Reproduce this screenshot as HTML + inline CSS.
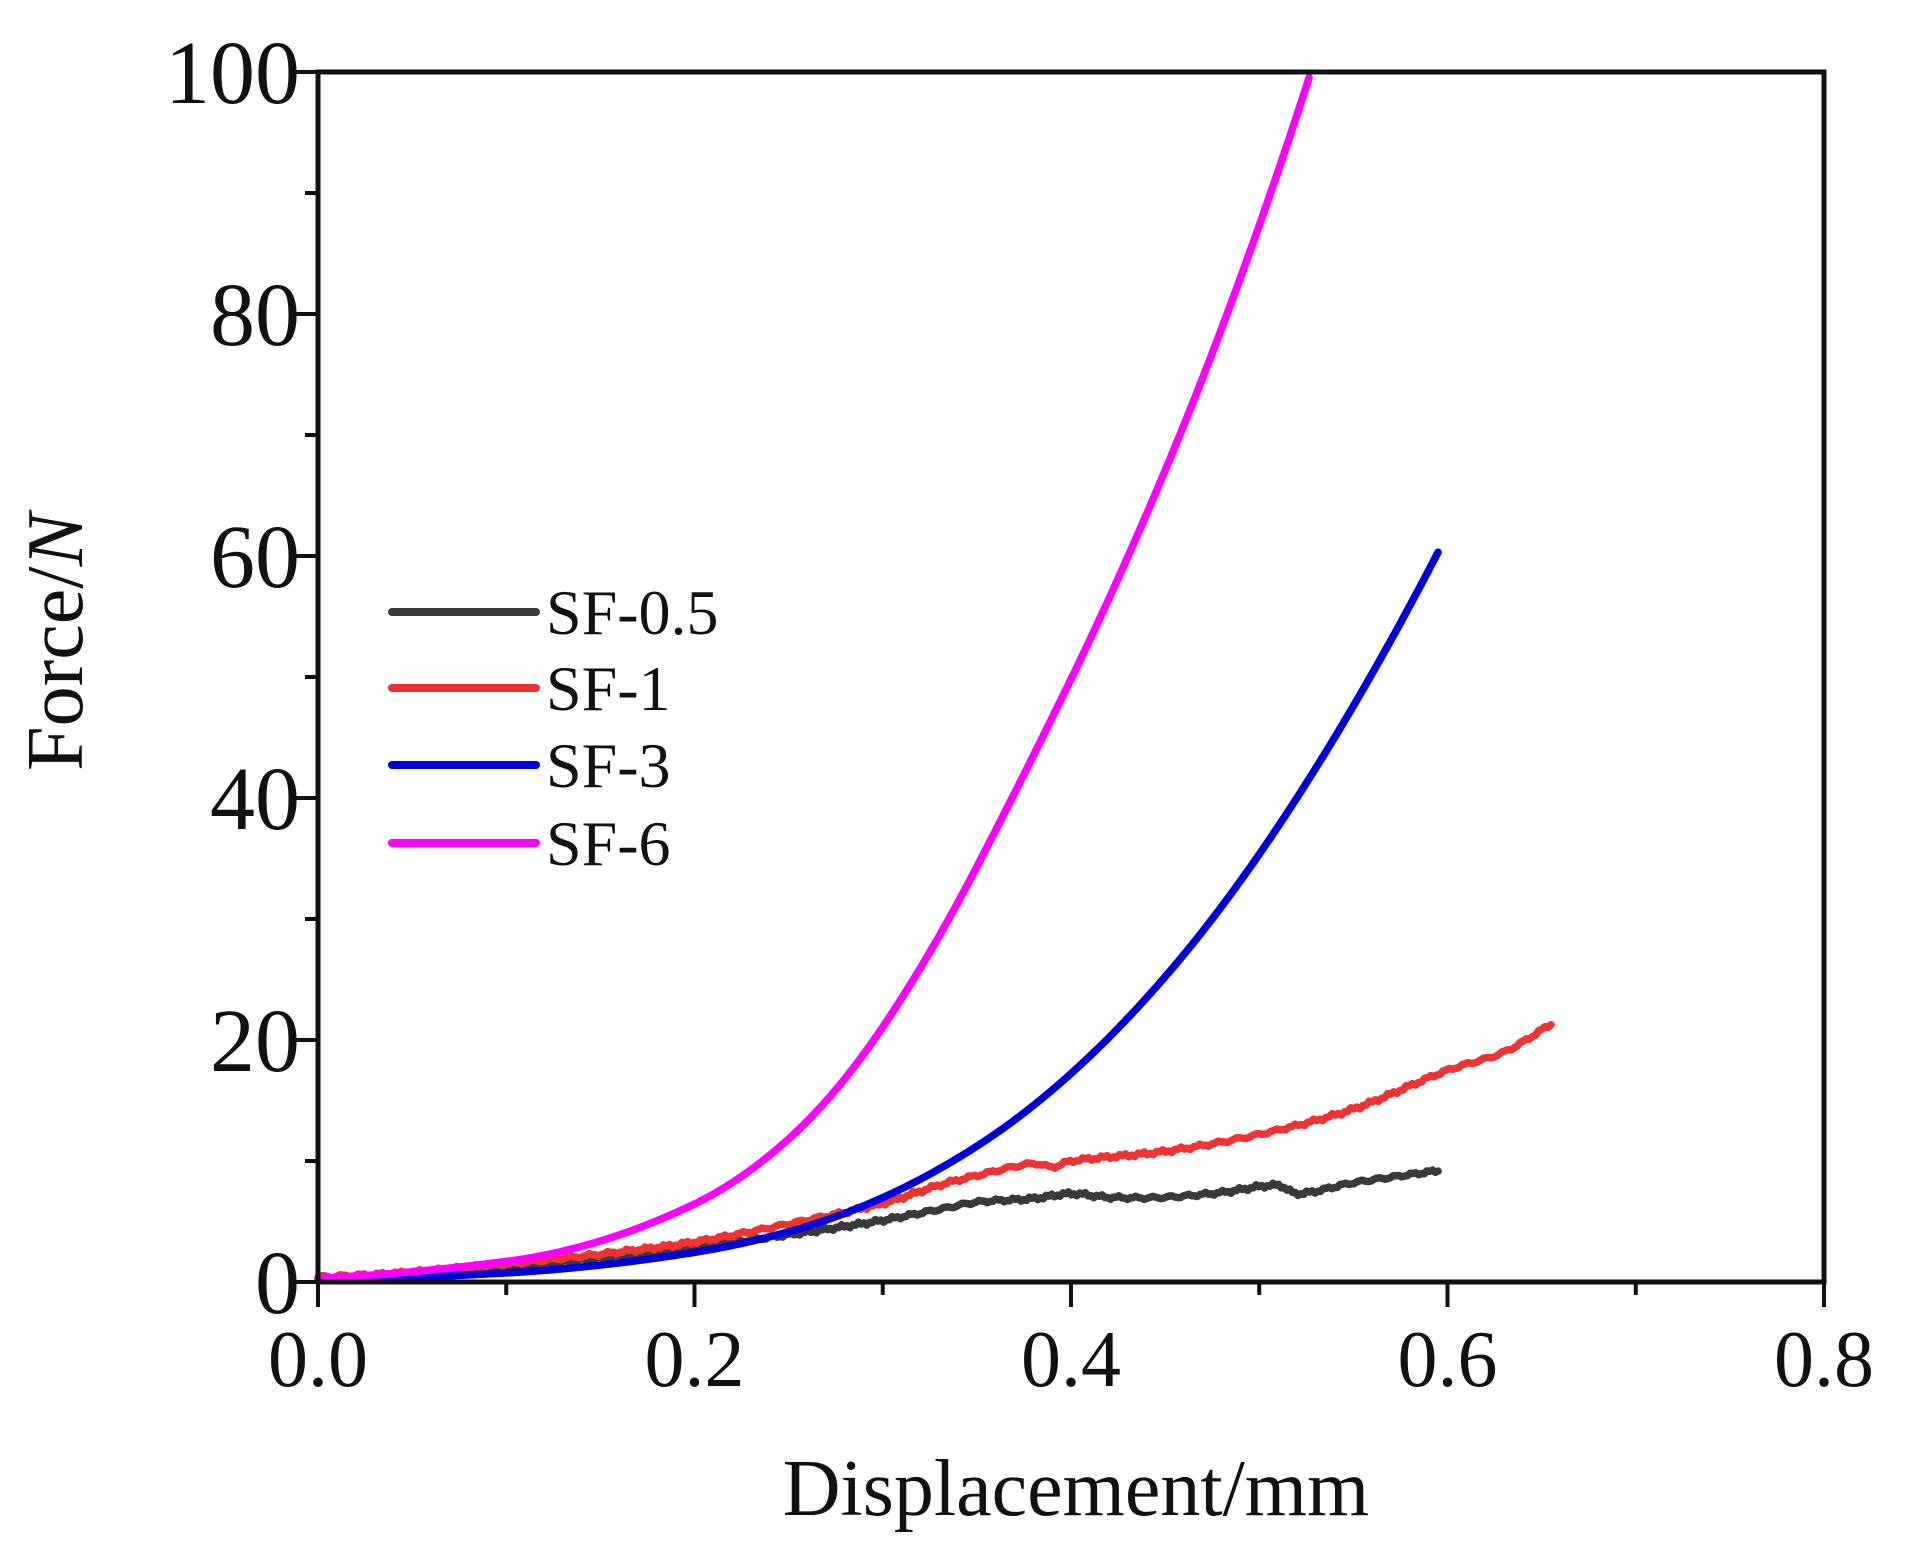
<!DOCTYPE html>
<html><head><meta charset="utf-8"><style>
html,body{margin:0;padding:0;background:#fff;}
svg{display:block;}
text{font-family:"Liberation Serif",serif;fill:#111;}
</style></head><body>
<svg id="s" width="1907" height="1565" viewBox="0 0 1907 1565" xmlns="http://www.w3.org/2000/svg">
<g id="curves" fill="none" stroke-width="7.5" stroke-linejoin="round" stroke-linecap="round"></g>
<rect x="318" y="72" width="1506" height="1210" fill="none" stroke="#111" stroke-width="5"/>
<g id="ticks" stroke="#111" stroke-width="4"></g>
<g font-size="80">
<text x="318" y="1386" text-anchor="middle">0.0</text>
<text x="694.5" y="1386" text-anchor="middle">0.2</text>
<text x="1071" y="1386" text-anchor="middle">0.4</text>
<text x="1447.5" y="1386" text-anchor="middle">0.6</text>
<text x="1824" y="1386" text-anchor="middle">0.8</text>
<g text-anchor="end" font-size="90">
<text x="300" y="1313">0</text>
<text x="300" y="1071">20</text>
<text x="300" y="829">40</text>
<text x="300" y="587">60</text>
<text x="300" y="345">80</text>
<text x="300" y="103">100</text>
</g>
<text x="1076" y="1515" text-anchor="middle">Displacement/mm</text>
<text transform="translate(82,642) rotate(-90)" text-anchor="middle">Force/<tspan font-style="italic">N</tspan></text>
</g>
<g stroke-width="8" stroke-linecap="round">
<line x1="392" y1="612" x2="536" y2="612" stroke="#3a3a3a"/>
<line x1="392" y1="688" x2="536" y2="688" stroke="#ee3333"/>
<line x1="392" y1="765" x2="536" y2="765" stroke="#0000dd"/>
<line x1="392" y1="843" x2="536" y2="843" stroke="#ff00ff"/>
</g>
<g font-size="64">
<text x="546" y="634">SF-0.5</text>
<text x="546" y="710">SF-1</text>
<text x="546" y="787">SF-3</text>
<text x="546" y="865">SF-6</text>
</g>
</svg>
<script>
var X=function(x){return 318+x*1882.5;},Y=function(y){return 1282-y*12.1;};
var ns="http://www.w3.org/2000/svg";
var t=document.getElementById("ticks");
function ln(x1,y1,x2,y2){var l=document.createElementNS(ns,"line");l.setAttribute("x1",x1);l.setAttribute("y1",y1);l.setAttribute("x2",x2);l.setAttribute("y2",y2);t.appendChild(l);}
for(var i=0;i<=8;i++){ln(X(i/10),1282,X(i/10),1282+(i%2?13:25));}
for(var j=0;j<=10;j++){ln(318,Y(j*10),318-(j%2?13:25),Y(j*10));}
function lin(p,x){for(var k=0;k<p.length-1;k++){if(x<=p[k+1][0]||k==p.length-2){var a=p[k],b=p[k+1];return a[1]+(b[1]-a[1])*(x-a[0])/(b[0]-a[0]);}}}
function interp(p,x){var n=p.length;for(var k=0;k<n-1;k++){if(x<=p[k+1][0]||k==n-2){
var p0=p[Math.max(k-1,0)],p1=p[k],p2=p[k+1],p3=p[Math.min(k+2,n-1)];
var u=(x-p1[0])/(p2[0]-p1[0]);
var m1=(p2[1]-p0[1])/(p2[0]-p0[0])*(p2[0]-p1[0]);
var m2=(p3[1]-p1[1])/(p3[0]-p1[0])*(p2[0]-p1[0]);
var u2=u*u,u3=u2*u;
return (2*u3-3*u2+1)*p1[1]+(u3-2*u2+u)*m1+(-2*u3+3*u2)*p2[1]+(u3-u2)*m2;}}}
function addPath(d,col){var p=document.createElementNS(ns,"path");p.setAttribute("d",d);p.setAttribute("stroke",col);document.getElementById("curves").appendChild(p);}
function curve(pts,col,noise){var d="";var x0=pts[0][0],x1=pts[pts.length-1][0];var n=400;
for(var k=0;k<=n;k++){var x=x0+(x1-x0)*k/n;var y=interp(pts,x)+(noise?(Math.sin(k*7.3)*0.1+Math.sin(k*3.1)*0.08)*noise:0);d+=(k?"L":"M")+X(x).toFixed(1)+","+Y(y).toFixed(1);}
addPath(d,col);}
function integ(slopes,y0,x1,col){var n=600,y=y0,d="M"+X(0).toFixed(1)+","+Y(y0).toFixed(1),dx=x1/n;
for(var k=1;k<=n;k++){var xa=(k-1)*dx,xb=k*dx;y+=(lin(slopes,xa)+lin(slopes,xb))/2*dx;d+="L"+X(xb).toFixed(1)+","+Y(y).toFixed(1);}
addPath(d,col);}
curve([[0,0.3],[0.05,0.6],[0.1,1.2],[0.15,2],[0.2,2.9],[0.25,3.9],[0.28,4.6],[0.3,5.1],[0.33,6],[0.35,6.6],[0.38,6.9],[0.4,7.3],[0.42,7],[0.45,7],[0.48,7.4],[0.51,8],[0.52,7.3],[0.55,8.2],[0.595,9.2]],"#3a3a3a",1);
curve([[0,0.4],[0.05,0.8],[0.1,1.5],[0.15,2.3],[0.2,3.3],[0.25,4.8],[0.3,6.5],[0.33,8],[0.35,8.8],[0.38,9.8],[0.39,9.5],[0.4,10],[0.45,10.8],[0.5,12.2],[0.55,14.3],[0.6,17.5],[0.63,19],[0.655,21.3]],"#ee3333",1);
integ([[0,2],[0.1,9],[0.2,25],[0.25,43],[0.3,70],[0.35,100],[0.4,140],[0.45,180],[0.5,225],[0.55,265],[0.595,300]],0.2,0.595,"#0000dd");
integ([[0,8],[0.1,20],[0.2,75],[0.25,140],[0.3,230],[0.35,300],[0.4,320],[0.45,370],[0.5,440],[0.525,480]],0.3,0.5265,"#ff00ff");
</script>
</body></html>
